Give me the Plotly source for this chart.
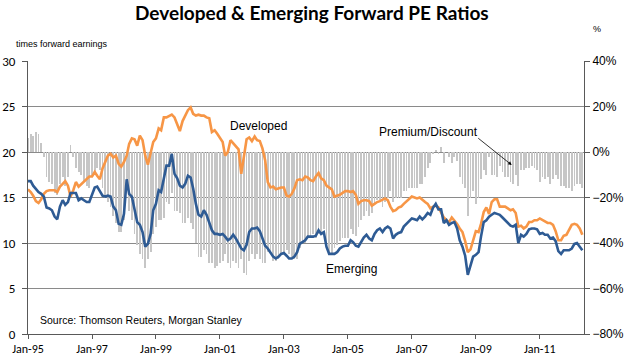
import plotly.graph_objects as go
import pandas as pd

# Monthly data Jan-1995 .. May-2012
months = pd.date_range("1995-01-01", periods=209, freq="MS")

emerging = [
    16.8, 16.8, 16.3, 15.9, 15.6, 15.4, 15.1, 13.9, 13.8, 13.6, 12.9, 12.6,
    14.0, 14.7, 14.2, 14.5, 15.5, 15.5, 15.5, 14.7, 14.9, 14.7, 14.5, 14.5,
    15.4, 16.1, 16.2, 15.6, 15.2, 15.1, 15.2, 15.1, 14.0, 13.6, 12.1, 12.0,
    13.2, 17.0, 15.4, 15.1, 13.6, 12.3, 12.0, 11.2, 9.6, 9.9, 11.0, 13.6,
    14.3, 15.8, 15.6, 16.9, 18.5, 18.5, 19.8, 17.6, 17.1, 16.3, 16.1, 16.5,
    17.4, 17.2, 16.0, 14.3, 13.1, 12.9, 13.6, 13.1, 12.1, 11.4, 11.0, 11.0,
    10.9, 11.0, 10.7, 10.3, 10.5, 10.9, 10.5, 9.9, 9.4, 9.2, 9.8, 11.2,
    11.6, 11.6, 11.7, 11.3, 10.4, 9.7, 9.4, 9.0, 8.5, 8.3, 8.5, 8.8,
    8.9, 8.6, 8.3, 8.3, 8.5, 9.0, 9.9, 10.1, 10.3, 10.7, 10.7, 10.7,
    10.8, 11.4, 11.0, 11.2, 9.6, 8.8, 8.8, 8.8, 9.0, 9.4, 9.6, 9.7,
    9.7, 10.3, 10.1, 9.7, 9.6, 10.2, 10.6, 10.9, 10.5, 10.3, 11.0, 11.4,
    11.6, 11.2, 11.6, 11.8, 11.6, 10.5, 10.9, 11.1, 11.2, 11.8, 12.1, 12.4,
    12.7, 12.6, 12.5, 12.9, 12.6, 12.9, 13.3, 13.1, 13.9, 14.3, 13.7, 13.7,
    12.2, 12.5, 12.0, 12.2, 12.3, 11.6, 10.3, 9.6, 8.6, 6.5, 7.4, 8.5,
    8.7, 9.0, 10.7, 12.3, 12.5, 12.9, 13.1, 13.3, 13.2, 13.1, 12.8, 12.5,
    12.3, 11.9, 11.8, 12.0, 10.0, 10.9, 10.7, 11.0, 11.5, 11.6, 11.6, 11.5,
    11.0, 11.1, 10.9, 10.9, 10.5, 10.6, 10.2, 9.1, 8.8, 9.2, 9.2, 9.2,
    9.4, 9.9, 10.0, 9.6, 9.2,
]

developed = [
    15.9, 15.6, 15.2, 14.6, 14.4, 14.8, 15.4, 15.7, 15.8, 15.8, 15.8, 15.6,
    16.2, 16.5, 16.8, 16.3, 15.1, 15.8, 16.7, 16.2, 16.5, 16.8, 17.1, 17.3,
    17.3, 17.8, 17.4, 17.0, 18.2, 18.9, 19.6, 19.8, 19.4, 19.6, 18.7, 18.4,
    18.9, 19.6, 20.9, 21.5, 21.4, 20.7, 21.8, 21.3, 19.6, 18.6, 19.8, 21.1,
    21.5, 22.6, 22.4, 23.8, 23.8, 24.0, 24.1, 23.8, 23.1, 22.3, 23.4, 24.0,
    24.6, 24.9, 24.2, 24.0, 24.1, 24.0, 24.0, 23.8, 23.7, 22.2, 22.4, 22.0,
    21.5, 21.1, 19.6, 20.0, 21.3, 21.0, 20.6, 20.3, 17.6, 19.6, 21.4, 21.6,
    21.2, 21.7, 21.3, 21.2, 20.4, 19.1, 16.7, 16.1, 16.2, 15.9, 16.0, 16.1,
    16.1, 15.2, 15.1, 15.4, 16.0, 16.9, 17.0, 16.9, 17.3, 17.2, 16.9, 16.8,
    17.3, 17.7, 17.1, 16.9, 16.3, 16.1, 15.9, 15.1, 15.2, 15.3, 15.5, 15.7,
    15.7, 15.6, 15.7, 15.3, 14.3, 14.6, 14.7, 14.7, 14.6, 14.1, 14.3, 14.5,
    14.6, 14.8, 14.9, 14.7, 14.0, 13.5, 13.6, 13.9, 14.0, 14.3, 14.6, 14.8,
    15.1, 15.0, 14.9, 15.0, 14.7, 14.5, 14.3, 13.8, 14.0, 14.1, 13.9, 13.4,
    12.8, 12.5, 12.3, 12.8, 12.5, 12.1, 11.6, 11.2, 10.2, 9.0, 9.3, 10.3,
    11.3, 11.2, 12.1, 13.4, 13.9, 13.2, 14.5, 14.8, 14.8, 14.0, 14.0, 14.0,
    13.8, 13.6, 13.7, 13.3, 11.8, 11.9, 11.6, 11.8, 12.3, 12.3, 12.5, 12.5,
    12.7, 12.5, 12.4, 12.2, 12.2, 12.0, 11.3, 10.3, 10.3, 10.8, 10.9, 11.4,
    12.0, 12.1, 12.0, 11.6, 10.9,
]

premium = [
    6, 8, 7, 9, 8, 4, -2, -11, -13, -14, -18, -19,
    -14, -11, -15, -11, 3, -2, -7, -9, -10, -13, -15, -16,
    -11, -10, -7, -8, -16, -20, -22, -24, -28, -31, -35, -35,
    -30, -13, -26, -30, -36, -41, -45, -47, -51, -47, -44, -36,
    -33, -30, -30, -29, -22, -23, -18, -26, -26, -27, -31, -31,
    -29, -31, -34, -40, -46, -46, -43, -45, -49, -49, -51, -50,
    -49, -48, -45, -49, -51, -48, -49, -51, -47, -53, -54, -48,
    -45, -47, -45, -47, -49, -49, -44, -44, -48, -48, -47, -45,
    -45, -43, -45, -46, -47, -47, -42, -40, -40, -38, -37, -36,
    -38, -36, -36, -34, -41, -45, -45, -42, -41, -39, -38, -38,
    -38, -34, -36, -37, -33, -30, -28, -26, -28, -27, -23, -21,
    -21, -24, -22, -20, -17, -22, -20, -20, -20, -17, -17, -16,
    -16, -16, -16, -14, -14, -11, -7, -5, -1, 1, -1, 2,
    -5, 0, -2, -5, -2, -4, -11, -14, -16, -28, -20, -17,
    -23, -20, -12, -8, -10, -2, -10, -10, -11, -6, -9, -11,
    -11, -13, -14, -10, -15, -8, -8, -7, -7, -6, -7, -8,
    -13, -11, -12, -11, -14, -12, -10, -12, -15, -15, -16, -16,
    -17, -15, -14, -14, -16,
]

tick_dates = ["1995-01-01", "1997-01-01", "1999-01-01", "2001-01-01", "2003-01-01",
              "2005-01-01", "2007-01-01", "2009-01-01", "2011-01-01"]
tick_labels = ["Jan-95", "Jan-97", "Jan-99", "Jan-01", "Jan-03",
               "Jan-05", "Jan-07", "Jan-09", "Jan-11"]

ORANGE = "#F79646"
BLUE = "#2E5B94"
AXIS = "#595959"
GRID = "#8a8a8a"
LBL = "Calibri, Lato, 'Liberation Sans', sans-serif"
ARIAL = "Arial, 'Liberation Sans', sans-serif"

fig = go.Figure()

# anchor trace for the left (primary) axis so its subplot exists; drawn invisibly
fig.add_trace(go.Scatter(
    x=months, y=developed, yaxis="y", mode="lines",
    line=dict(color="rgba(0,0,0,0)", width=0), hoverinfo="skip", showlegend=False,
))
fig.add_trace(go.Bar(
    x=months, y=premium, yaxis="y2",
    marker=dict(color="#c6c6c6", line=dict(width=0)),
    width=0.8e9, name="Premium/Discount", hoverinfo="skip",
))
fig.add_trace(go.Scatter(
    x=months, y=developed, yaxis="y3", mode="lines",
    line=dict(color=ORANGE, width=2.6), name="Developed",
))
fig.add_trace(go.Scatter(
    x=months, y=emerging, yaxis="y3", mode="lines",
    line=dict(color=BLUE, width=2.6), name="Emerging",
))

fig.update_layout(
    width=625, height=360,
    margin=dict(l=28, r=41, t=61, b=26, autoexpand=False),
    paper_bgcolor="white", plot_bgcolor="white",
    showlegend=False,
    bargap=0,
    title=dict(text="<b>Developed & Emerging Forward PE Ratios</b>",
               x=0.499, xanchor="center", y=0.963, yanchor="middle",
               font=dict(family="Lato, 'Open Sans', sans-serif", size=19, color="black")),
    xaxis=dict(
        type="date", range=["1995-01-01", "2012-05-20"], automargin=False,
        tickvals=tick_dates, ticktext=tick_labels,
        ticks="outside", ticklen=4, tickcolor=AXIS,
        showline=True, linecolor=AXIS, linewidth=1,
        showgrid=False, zeroline=False,
        tickfont=dict(family=LBL, size=12, color="black"),
    ),
    yaxis=dict(
        range=[0, 30], dtick=5, tick0=0, autorange=False, automargin=False,
        ticks="outside", ticklen=5, tickcolor=AXIS,
        showline=True, linecolor=AXIS, linewidth=1,
        showgrid=True, gridcolor=GRID, gridwidth=1,
        zeroline=False, ticklabelstandoff=4,
        tickfont=dict(family=LBL, size=13, color="black"),
    ),
    yaxis2=dict(
        overlaying="y", side="right", anchor="x", automargin=False,
        range=[-80, 40], dtick=20, tick0=0, ticksuffix="%", autorange=False,
        ticks="outside", ticklen=5, tickcolor=AXIS,
        showline=True, linecolor=AXIS, linewidth=1,
        showgrid=False, zeroline=False,
        tickfont=dict(family=ARIAL, size=12, color="black"),
    ),
    yaxis3=dict(
        overlaying="y", anchor="x", range=[0, 30], autorange=False, automargin=False,
        showticklabels=False, showgrid=False, showline=False, zeroline=False, ticks="",
    ),
)

annots = [
    dict(text="times forward earnings", x=-0.0257, y=1.062, xanchor="left", yanchor="middle",
         font=dict(family=ARIAL, size=9, color="black")),
    dict(text="%", x=1.0126, y=1.117, xanchor="left", yanchor="middle",
         font=dict(family=ARIAL, size=9, color="black")),
    dict(text="Developed", x=0.414, y=0.763, xanchor="center", yanchor="middle",
         font=dict(family=ARIAL, size=12, color="black")),
    dict(text="Emerging", x=0.5816, y=0.237, xanchor="center", yanchor="middle",
         font=dict(family=ARIAL, size=12, color="black")),
    dict(text="Premium/Discount", x=0.7198, y=0.741, xanchor="center", yanchor="middle",
         font=dict(family=ARIAL, size=12, color="black")),
    dict(text="Source: Thomson Reuters, Morgan Stanley", x=0.0175, y=0.051,
         xanchor="left", yanchor="middle",
         font=dict(family=ARIAL, size=10.5, color="black")),
]
for a in annots:
    fig.add_annotation(xref="paper", yref="paper", showarrow=False, **a)

fig.add_annotation(xref="paper", yref="paper", x=0.870, y=0.619, text="",
                   showarrow=True, arrowhead=2, arrowsize=0.9, arrowwidth=0.8,
                   arrowcolor="black", ax=-35, ay=-28, axref="pixel", ayref="pixel")

fig.write_html("out.html",
               config={"displayModeBar": False},
               post_script="document.body.style.margin='0';document.body.style.overflow='hidden';")
